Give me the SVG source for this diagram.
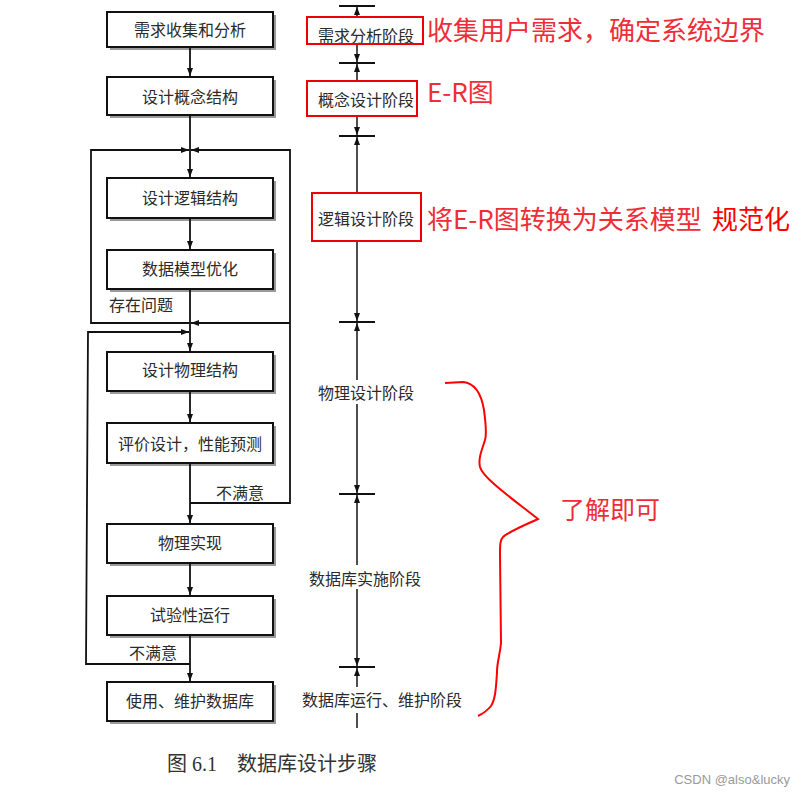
<svg xmlns="http://www.w3.org/2000/svg" width="806" height="795" viewBox="0 0 806 795">
<defs>
<marker id="a" markerUnits="userSpaceOnUse" markerWidth="9" markerHeight="7" refX="8" refY="3.5" orient="auto-start-reverse"><path d="M0,0.5 L8,3.5 L0,6.5 z" fill="#111"/></marker>
<style>
.bx{fill:#fff;stroke:#111;stroke-width:2}
.sh{fill:#9a9a9a}
.t{font-family:"Noto Sans CJK SC","Noto Sans",sans-serif;font-size:16px;fill:#2a2a2a;text-anchor:middle;dominant-baseline:central}
.ln{fill:none;stroke:#111;stroke-width:1.8}
.tl{fill:none;stroke:#222;stroke-width:1.6}
.tk{stroke:#111;stroke-width:2}
.red{font-family:"Noto Sans CJK SC","Noto Sans",sans-serif;fill:#ef2d37;dominant-baseline:central}
.rb{fill:none;stroke:#ee0000;stroke-width:2}
.cap{font-family:"Liberation Serif","Noto Sans CJK SC",serif;font-size:20px;fill:#333;dominant-baseline:central}
</style>
</defs>
<rect width="806" height="795" fill="#fff"/>

<g id="n1"><rect class="sh" x="110" y="15" width="166" height="35"/><rect class="bx" x="107" y="12" width="166" height="35"/><text class="t" x="190" y="29">需求收集和分析</text></g>
<g id="n2"><rect class="sh" x="110" y="80" width="166" height="38"/><rect class="bx" x="107" y="77" width="166" height="38"/><text class="t" x="190" y="96">设计概念结构</text></g>
<g id="n3"><rect class="sh" x="110" y="181" width="166" height="40"/><rect class="bx" x="107" y="178" width="166" height="40"/><text class="t" x="190" y="197">设计逻辑结构</text></g>
<g id="n4"><rect class="sh" x="110" y="253" width="166" height="39"/><rect class="bx" x="107" y="250" width="166" height="39"/><text class="t" x="190" y="268">数据模型优化</text></g>
<g id="n5"><rect class="sh" x="110" y="355" width="166" height="39"/><rect class="bx" x="107" y="352" width="166" height="39"/><text class="t" x="190" y="369">设计物理结构</text></g>
<g id="n6"><rect class="sh" x="110" y="426" width="166" height="40"/><rect class="bx" x="107" y="423" width="166" height="40"/><text class="t" x="190" y="443">评价设计，性能预测</text></g>
<g id="n7"><rect class="sh" x="110" y="527" width="166" height="39"/><rect class="bx" x="107" y="524" width="166" height="39"/><text class="t" x="190" y="542">物理实现</text></g>
<g id="n8"><rect class="sh" x="110" y="599" width="166" height="39"/><rect class="bx" x="107" y="596" width="166" height="39"/><text class="t" x="190" y="614">试验性运行</text></g>
<g id="n9"><rect class="sh" x="110" y="685" width="166" height="39"/><rect class="bx" x="107" y="682" width="166" height="39"/><text class="t" x="190" y="700">使用、维护数据库</text></g>

<g id="connectors">
<line class="ln" x1="190" y1="47" x2="190" y2="76" marker-end="url(#a)"/>
<line class="ln" x1="190" y1="115" x2="190" y2="177" marker-end="url(#a)"/>
<line class="ln" x1="190" y1="218" x2="190" y2="249" marker-end="url(#a)"/>
<line class="ln" x1="190" y1="289" x2="190" y2="351" marker-end="url(#a)"/>
<line class="ln" x1="190" y1="391" x2="190" y2="422" marker-end="url(#a)"/>
<line class="ln" x1="190" y1="463" x2="190" y2="523" marker-end="url(#a)"/>
<line class="ln" x1="190" y1="563" x2="190" y2="595" marker-end="url(#a)"/>
<line class="ln" x1="190" y1="635" x2="190" y2="681" marker-end="url(#a)"/>
<polyline class="ln" points="190,323 91,323 91,150 189,150" marker-end="url(#a)"/>
<polyline class="ln" points="190,503 290,503 290,150 191,150" marker-end="url(#a)"/>
<line class="ln" x1="290" y1="323" x2="191" y2="323" marker-end="url(#a)"/>
<polyline class="ln" points="190,664 86,664 88,332 189,332" marker-end="url(#a)"/>
<text class="t" x="141" y="304">存在问题</text>
<text class="t" x="240" y="492">不满意</text>
<text class="t" x="153" y="652">不满意</text>
</g>

<g id="timeline">
<line class="tk" x1="339" y1="6" x2="375" y2="6"/>
<line class="tk" x1="339" y1="63" x2="375" y2="63"/>
<line class="tk" x1="339" y1="136" x2="375" y2="136"/>
<line class="tk" x1="339" y1="322" x2="375" y2="322"/>
<line class="tk" x1="339" y1="494" x2="375" y2="494"/>
<line class="tk" x1="339" y1="667" x2="375" y2="667"/>
<line class="tl" x1="357" y1="17" x2="357" y2="7" marker-end="url(#a)"/>
<line class="tl" x1="357" y1="45" x2="357" y2="62" marker-end="url(#a)"/>
<line class="tl" x1="357" y1="81" x2="357" y2="64" marker-end="url(#a)"/>
<line class="tl" x1="357" y1="116" x2="357" y2="135" marker-end="url(#a)"/>
<line class="tl" x1="357" y1="193" x2="357" y2="137" marker-end="url(#a)"/>
<line class="tl" x1="357" y1="241" x2="357" y2="321" marker-end="url(#a)"/>
<line class="tl" x1="357" y1="380" x2="357" y2="323" marker-end="url(#a)"/>
<line class="tl" x1="357" y1="404" x2="357" y2="493" marker-end="url(#a)"/>
<line class="tl" x1="357" y1="565" x2="357" y2="495" marker-end="url(#a)"/>
<line class="tl" x1="357" y1="589" x2="357" y2="666" marker-end="url(#a)"/>
<line class="tl" x1="357" y1="687" x2="357" y2="668" marker-end="url(#a)"/>
<line class="tl" x1="357" y1="713" x2="357" y2="728"/>
<text class="t" x="366" y="35">需求分析阶段</text>
<text class="t" x="366" y="99">概念设计阶段</text>
<text class="t" x="366" y="218">逻辑设计阶段</text>
<text class="t" x="366" y="392">物理设计阶段</text>
<text class="t" x="365" y="578">数据库实施阶段</text>
<text class="t" x="382" y="699">数据库运行、维护阶段</text>
</g>

<g id="annotations">
<rect class="rb" x="307" y="17" width="116" height="27"/>
<rect class="rb" x="307" y="81" width="110" height="35"/>
<rect class="rb" x="312" y="193" width="109" height="48"/>
<text class="red" x="427" y="28" font-size="26">收集用户需求，确定系统边界</text>
<text class="red" x="427" y="90" font-size="26">E-R图</text>
<text class="red" x="427" y="217" font-size="26">将E-R图转换为关系模型</text>
<text class="red" x="712" y="217" font-size="26" style="fill:#ff0000">规范化</text>
<path d="M445,383 L463,382 C474,383 481,392 484,410 C486,425 486,437 485,440 C482,450 478,458 480,467 C483,478 510,497 538,519 C525,525 508,532 503,537 C500,540 500,545 500,555 L501,643 C500,655 497,662 497,672 C496,690 495,700 491,706 C487,711 482,714 478,716" fill="none" stroke="#ff0000" stroke-width="2"/>
<text class="red" x="560" y="508" font-size="25">了解即可</text>
</g>

<g id="caption">
<text class="cap" x="167" y="764">图 6.1</text>
<text class="cap" x="237" y="764" font-size="20">数据库设计步骤</text>
</g>
<text x="790" y="779" font-family="Liberation Sans,Arial,sans-serif" font-size="13" fill="#9a9a9a" text-anchor="end" dominant-baseline="central">CSDN @also&amp;lucky</text>
</svg>
